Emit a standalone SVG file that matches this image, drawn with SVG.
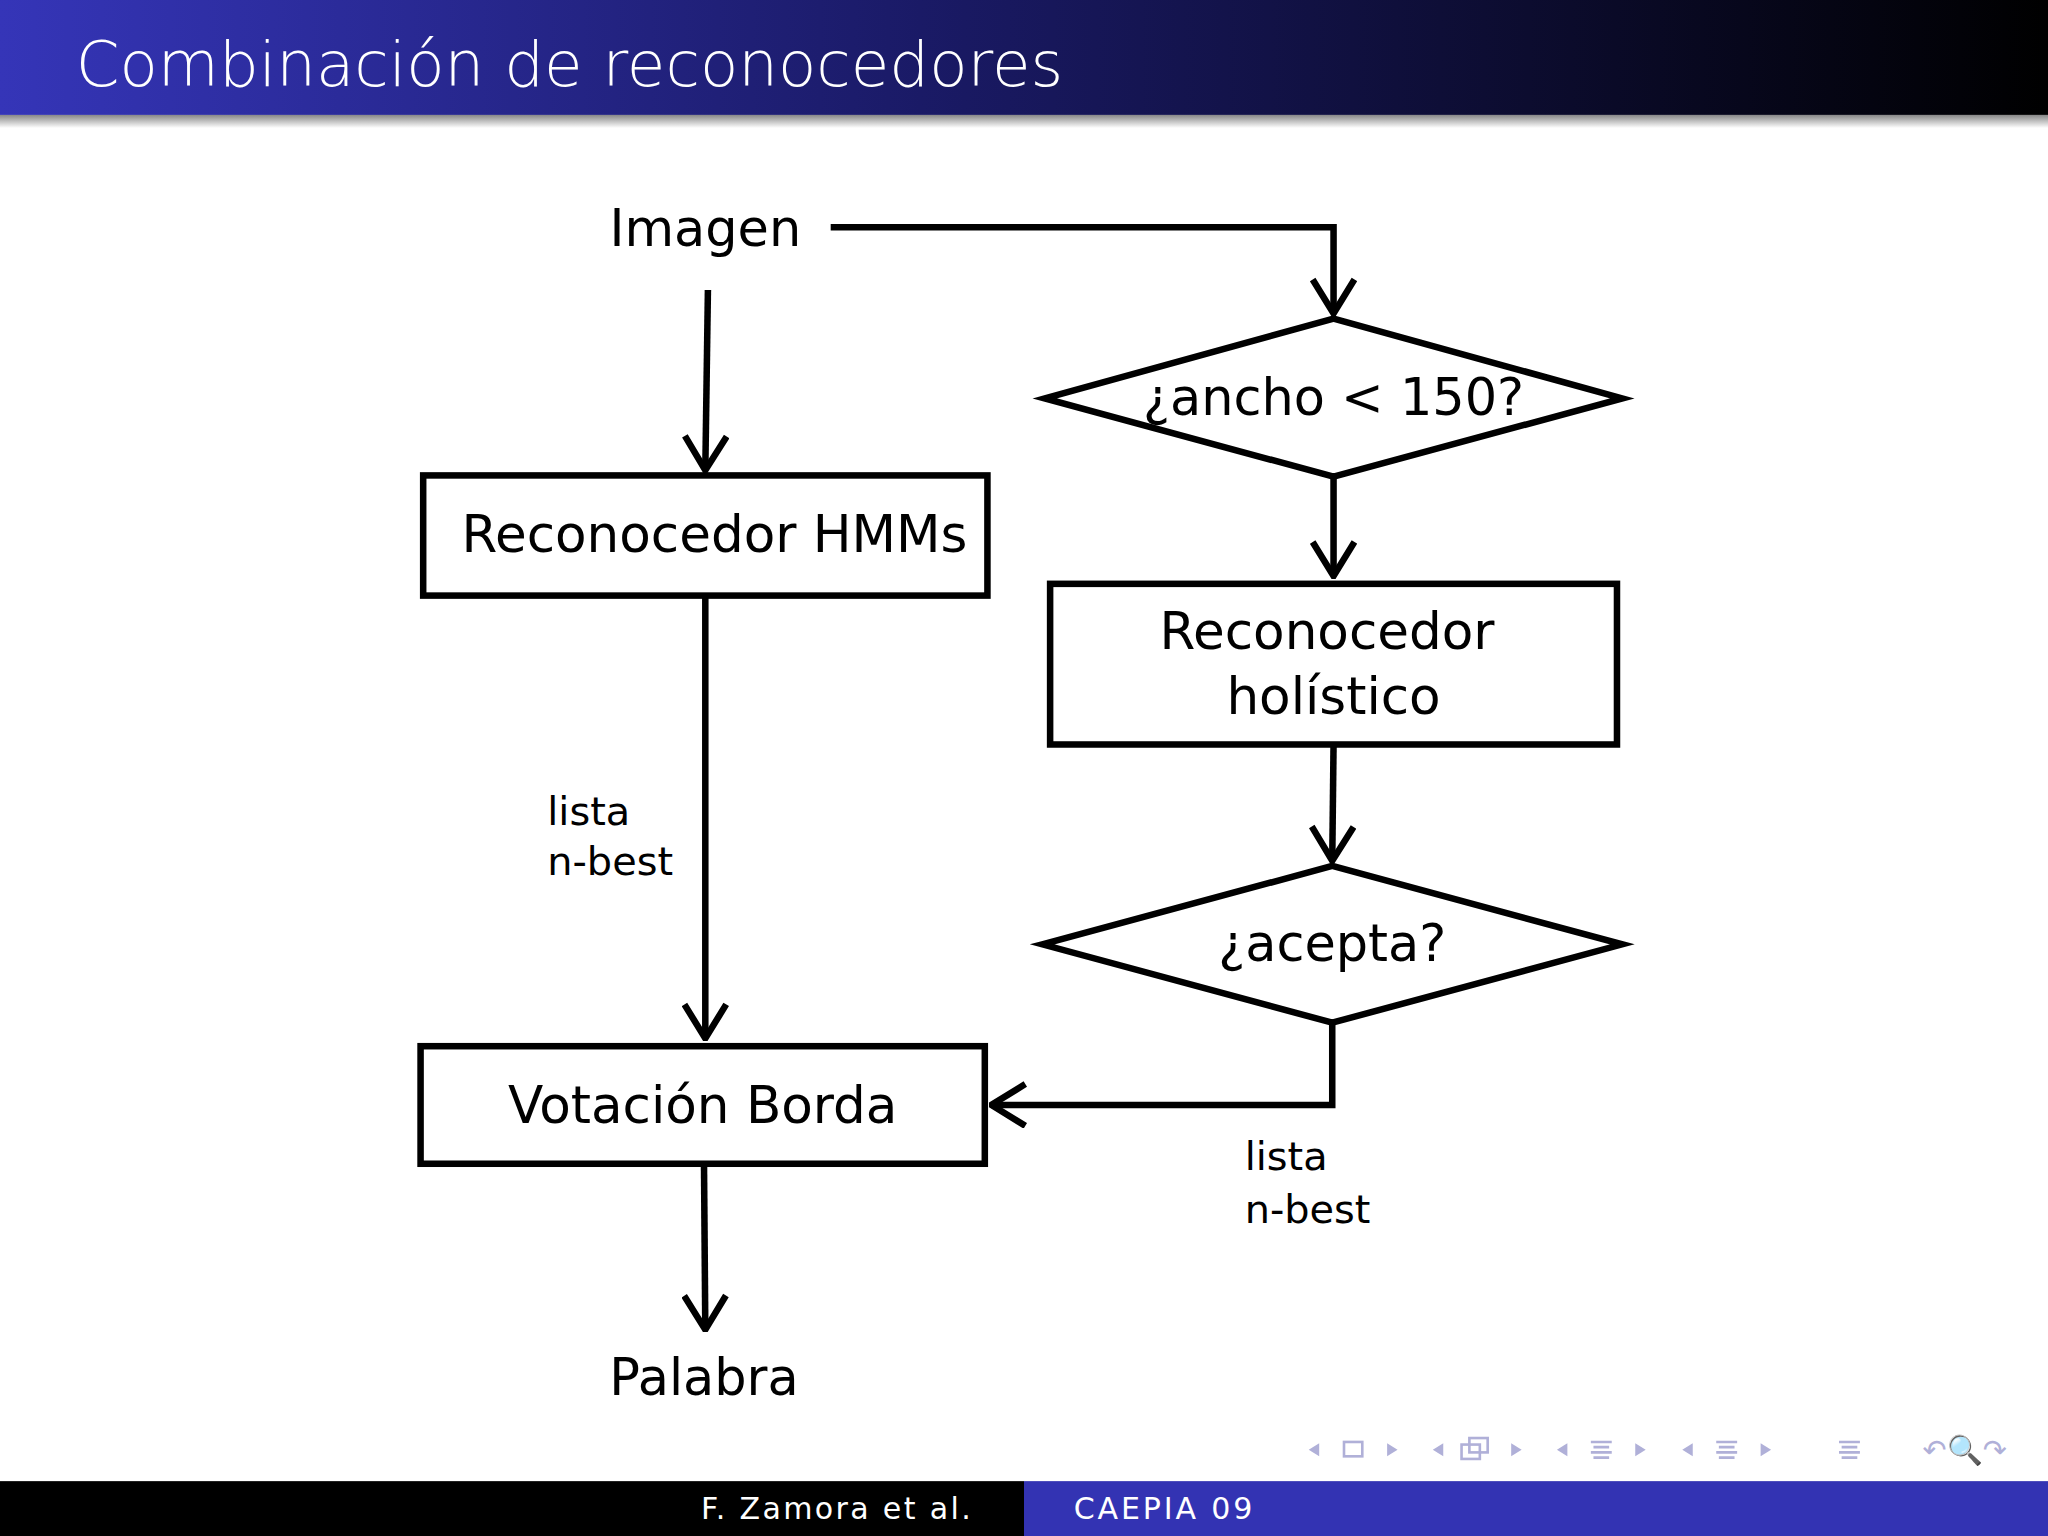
<svg xmlns="http://www.w3.org/2000/svg" width="2048" height="1536" viewBox="0 0 2048 1536">
<defs>
<linearGradient id="hg" x1="0" x2="1" y1="0" y2="0"><stop offset="0" stop-color="#3535b8"/><stop offset="0.45" stop-color="#1a1a66"/><stop offset="1" stop-color="#000"/></linearGradient>
<linearGradient id="sh" x1="0" x2="0" y1="0" y2="1"><stop offset="0" stop-color="#888"/><stop offset="1" stop-color="#fff"/></linearGradient>
<marker id="ah" viewBox="-28 -18 30 36" refX="0" refY="0" markerUnits="userSpaceOnUse" markerWidth="30" markerHeight="36" orient="auto"><path d="M-26,-16 L0,0 L-26,16" fill="none" stroke="#000" stroke-width="5"/></marker>
<style>
.t{font-family:"DejaVu Sans",sans-serif;fill:#000}
.n{fill:none;stroke:#000;stroke-width:5}
.c{fill:none;stroke:#000;stroke-width:5;marker-end:url(#ah)}
.nav{fill:#b0b0d8}
</style>
</defs>
<rect width="2048" height="1536" fill="#fff"/>
<g transform="scale(1.30612)">
<g id="header">
<rect x="0" y="0" width="1568" height="88" fill="url(#hg)"/>
<rect x="0" y="88" width="1568" height="10" fill="url(#sh)"/>
<text x="58" y="66" font-family="DejaVu Sans,sans-serif" font-size="48" fill="#fff" font-weight="300">Combinación de reconocedores</text>
</g>
<g id="connectors">
<path class="c" d="M542,222 L540,360"/>
<path class="c" d="M636,174 L1021,174 L1021,240"/>
<path class="c" d="M1021,365 L1021,441"/>
<path class="c" d="M1021,570 L1020,659"/>
<path class="c" d="M1020,783 L1020,846 L759,846"/>
<path class="c" d="M540,456 L540,795"/>
<path class="c" d="M539,891 L540,1018"/>
</g>
<g id="imagen"><text class="t" x="540" y="188" font-size="39" text-anchor="middle">Imagen</text></g>
<g id="ancho"><polygon class="n" points="800,305 1021,244 1242,305 1021,365"/><text class="t" x="1021" y="318" font-size="39" text-anchor="middle">¿ancho &lt; 150?</text></g>
<g id="holistico"><rect class="n" x="804" y="447" width="434" height="123"/><text class="t" x="1016" y="497" font-size="39.5" text-anchor="middle">Reconocedor</text><text class="t" x="1021" y="547" font-size="39.5" text-anchor="middle">holístico</text></g>
<g id="acepta"><polygon class="n" points="798,723 1020,663 1242,723 1020,783"/><text class="t" x="1020" y="736" font-size="39" text-anchor="middle">¿acepta?</text></g>
<g id="hmms"><rect class="n" x="324" y="364" width="432" height="92"/><text class="t" x="547" y="423" font-size="39.5" text-anchor="middle">Reconocedor HMMs</text></g>
<g id="lista1"><text class="t" x="419" y="632" font-size="30.5">lista</text><text class="t" x="419" y="670" font-size="30.5">n-best</text></g>
<g id="borda"><rect class="n" x="322" y="801" width="432" height="90"/><text class="t" x="538" y="860" font-size="39.5" text-anchor="middle">Votación Borda</text></g>
<g id="lista2"><text class="t" x="953" y="896" font-size="30.5">lista</text><text class="t" x="953" y="936" font-size="30.5">n-best</text></g>
<g id="palabra"><text class="t" x="539" y="1068" font-size="39" text-anchor="middle">Palabra</text></g>
<g id="nav">
<polygon class="nav" points="1010,1105 1002,1110 1010,1115"/><rect x="1029" y="1104" width="14" height="11" fill="none" stroke="#b0b0d8" stroke-width="2"/><polygon class="nav" points="1062,1105 1070,1110 1062,1115"/>
<polygon class="nav" points="1105,1105 1097,1110 1105,1115"/><rect x="1119" y="1106" width="14" height="11" fill="none" stroke="#b0b0d8" stroke-width="2"/><rect x="1125" y="1101" width="14" height="11" fill="none" stroke="#b0b0d8" stroke-width="2"/><polygon class="nav" points="1157,1105 1165,1110 1157,1115"/>
<polygon class="nav" points="1200,1105 1192,1110 1200,1115"/><path d="M1218,1104h16M1220,1108h12M1218,1112h16M1220,1116h12" stroke="#b0b0d8" stroke-width="2"/><polygon class="nav" points="1252,1105 1260,1110 1252,1115"/>
<polygon class="nav" points="1296,1105 1288,1110 1296,1115"/><path d="M1314,1104h16M1316,1108h12M1314,1112h16M1316,1116h12" stroke="#b0b0d8" stroke-width="2"/><polygon class="nav" points="1348,1105 1356,1110 1348,1115"/>
<path d="M1408,1104h16M1410,1108h12M1408,1112h16M1410,1116h12" stroke="#b0b0d8" stroke-width="2"/>
<text x="1472" y="1118" font-family="DejaVu Sans,sans-serif" font-size="22" fill="#b0b0d8">↶🔍↷</text>
</g>
<g id="footer">
<rect x="0" y="1134" width="784" height="42" fill="#000"/>
<rect x="784" y="1134" width="784" height="42" fill="#3333b3"/>
<text x="745" y="1163" font-family="DejaVu Sans,sans-serif" font-size="23" fill="#fff" text-anchor="end" letter-spacing="1.8">F. Zamora et al.</text>
<text x="822" y="1163" font-family="DejaVu Sans,sans-serif" font-size="23" fill="#fff" letter-spacing="2.2">CAEPIA 09</text>
</g>
</g>
</svg>
